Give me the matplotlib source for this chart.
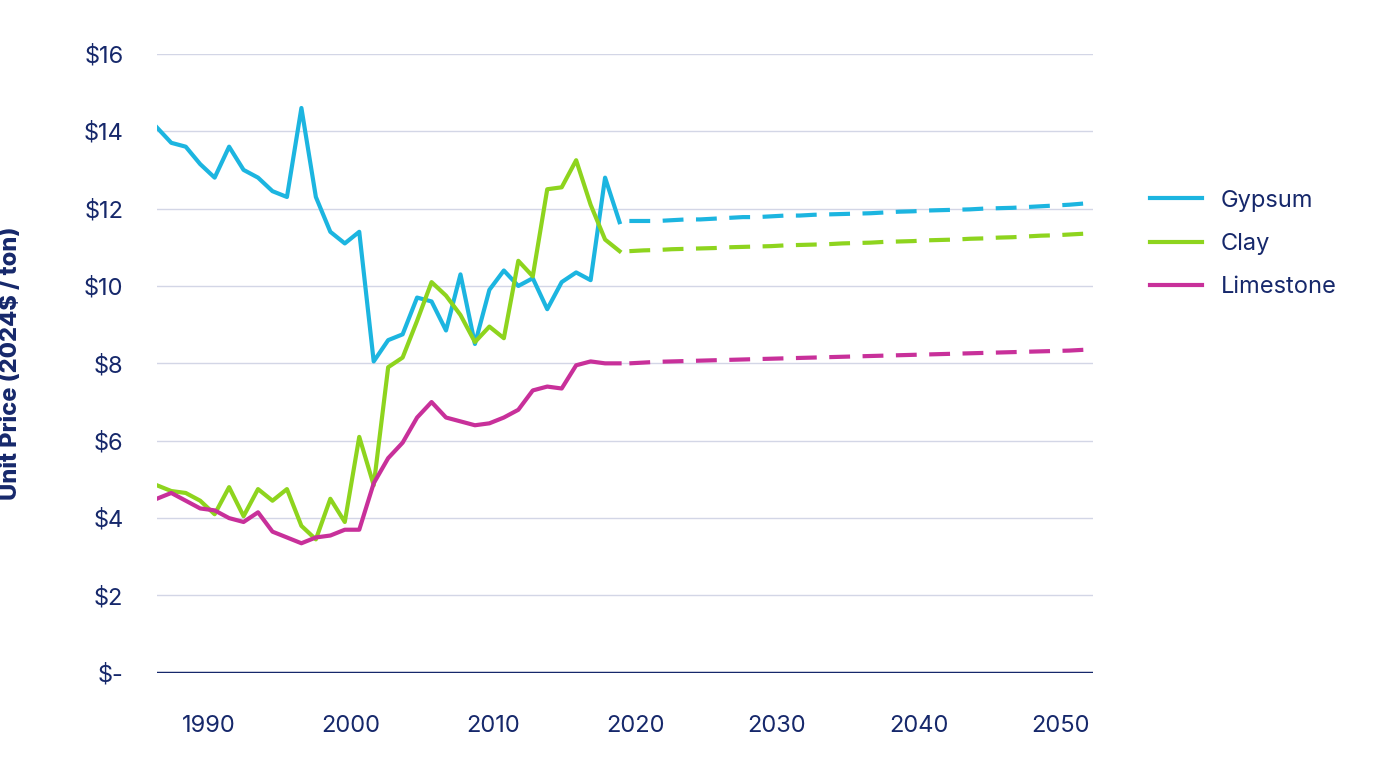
import matplotlib
matplotlib.use("Agg")
import matplotlib.pyplot as plt
import numpy as np

plt.rcParams['font.family'] = ['Inter', 'DejaVu Sans']

hist_years = list(range(1987, 2020))
fc_years = list(range(2020, 2053))

gypsum = [14.1, 13.7, 13.6, 13.15, 12.8, 13.6, 13.0, 12.8, 12.45, 12.3, 14.6, 12.3, 11.4,
          11.1, 11.4, 8.05, 8.6, 8.75, 9.7, 9.6, 8.85, 10.3, 8.5, 9.9, 10.4, 10.0, 10.2,
          9.4, 10.1, 10.35, 10.15, 12.8, 11.65]
clay = [4.85, 4.7, 4.65, 4.45, 4.1, 4.8, 4.05, 4.75, 4.45, 4.75, 3.8, 3.45, 4.5, 3.9,
        6.1, 4.85, 7.9, 8.15, 9.1, 10.1, 9.75, 9.25, 8.55, 8.95, 8.65, 10.65, 10.25,
        12.5, 12.55, 13.25, 12.1, 11.2, 10.9]
limestone = [4.5, 4.65, 4.45, 4.25, 4.2, 4.0, 3.9, 4.15, 3.65, 3.5, 3.35, 3.5, 3.55, 3.7,
             3.7, 4.9, 5.55, 5.95, 6.6, 7.0, 6.6, 6.5, 6.4, 6.45, 6.6, 6.8, 7.3, 7.4, 7.35,
             7.95, 8.05, 8.0, 8.0]

gypsum_fc = [11.68, 11.68, 11.68, 11.70, 11.72, 11.72, 11.74, 11.76, 11.78, 11.78, 11.80,
             11.82, 11.82, 11.84, 11.85, 11.86, 11.87, 11.88, 11.90, 11.92, 11.93, 11.95,
             11.96, 11.97, 11.98, 12.00, 12.01, 12.02, 12.04, 12.06, 12.08, 12.10, 12.13]
clay_fc = [10.9, 10.92, 10.93, 10.95, 10.96, 10.97, 10.98, 11.0, 11.01, 11.02, 11.03, 11.05,
           11.06, 11.07, 11.08, 11.10, 11.11, 11.12, 11.14, 11.15, 11.16, 11.18, 11.19, 11.2,
           11.22, 11.23, 11.25, 11.26, 11.28, 11.3, 11.31, 11.33, 11.35]
limestone_fc = [8.0, 8.02, 8.04, 8.05, 8.06, 8.07, 8.08, 8.09, 8.1, 8.11, 8.12, 8.13, 8.14,
                8.15, 8.16, 8.17, 8.18, 8.19, 8.2, 8.21, 8.22, 8.23, 8.24, 8.25, 8.26, 8.27,
                8.28, 8.29, 8.3, 8.31, 8.32, 8.33, 8.35]

navy = '#16286b'
colors = {'Gypsum': '#1cb5e0', 'Clay': '#8ed41e', 'Limestone': '#c8309a'}

fig = plt.figure(figsize=(14, 7.69), dpi=100)
ax = fig.add_axes([0.112, 0.125, 0.669, 0.805])

# the source chart spaces its yearly points slightly wider than its year ticks
hx = 1986.3 + (np.array(hist_years) - 1987) * 1.019
fx = 2019.6 + (np.array(fc_years) - 2020) * 1.0
for name, h, f in [('Gypsum', gypsum, gypsum_fc), ('Clay', clay, clay_fc),
                   ('Limestone', limestone, limestone_fc)]:
    ax.plot(hx, h, color=colors[name], lw=3, label=name)
    ax.plot(fx, f, color=colors[name], lw=3, dashes=(5, 3))

ax.set_xlim(1986.3, 2052.3)
ax.set_ylim(0, 16)
ax.set_yticks(range(0, 17, 2))
ax.set_yticklabels(['$-'] + [f'${v}' for v in range(2, 17, 2)])
ax.set_xticks(range(1990, 2051, 10))
ax.grid(axis='y', color='#d3d6e6', lw=1)
ax.set_axisbelow(True)
for s in ['top', 'right', 'left', 'bottom']:
    ax.spines[s].set_visible(False)
ax.axhline(0, color=navy, lw=2.5)
ax.tick_params(length=0, labelsize=17, colors=navy, pad=24)
ax.tick_params(axis='x', pad=30)
ax.set_ylabel('Unit Price (2024$ / ton)', fontsize=17, color=navy, fontweight='heavy', labelpad=44)

ax.legend(loc='upper left', bbox_to_anchor=(1.038, 0.815), frameon=False, fontsize=17,
          labelcolor=navy, handlelength=2.2, labelspacing=0.9)

fig.savefig('out.png', dpi=100, facecolor='white')
